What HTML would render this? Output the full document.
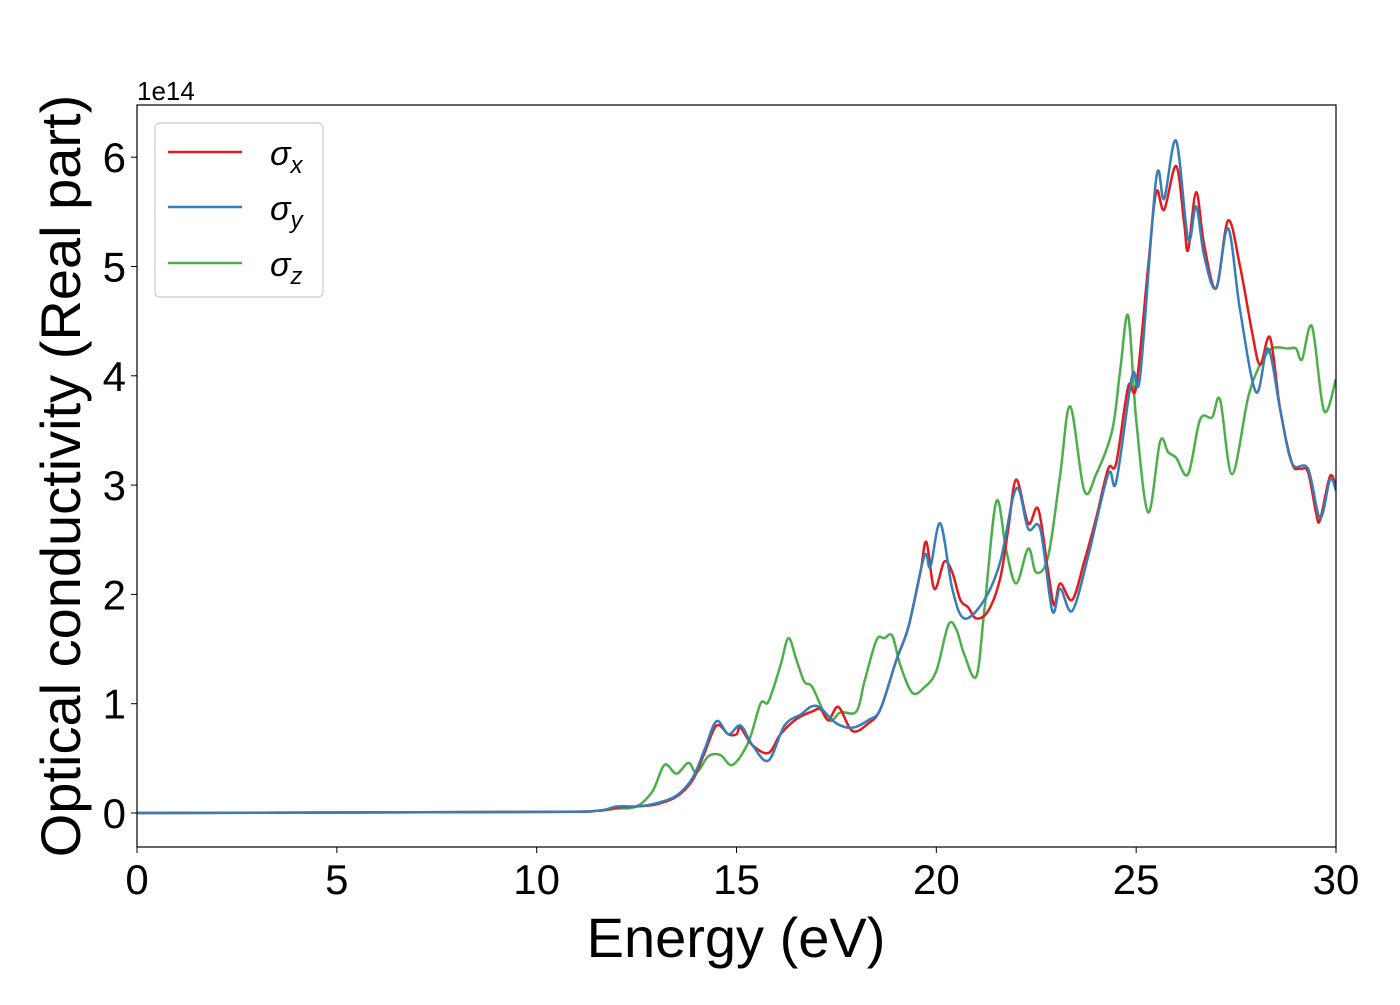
<!DOCTYPE html>
<html><head><meta charset="utf-8"><style>
body{margin:0;background:#fff;}
svg{font-family:"Liberation Sans","DejaVu Sans",sans-serif;}
</style></head><body>
<svg id="chart" width="1400" height="1000" viewBox="0 0 1400 1000" xmlns="http://www.w3.org/2000/svg">
<rect width="1400" height="1000" fill="#fff"/>
<g id="series"></g>
<rect x="137" y="105" width="1199" height="742" fill="none" stroke="#000" stroke-width="1.2"/>
<g id="xticks"></g><g id="yticks"></g>
<text x="137" y="100" font-size="26">1e14</text>
<text x="736" y="957" font-size="56" text-anchor="middle">Energy (eV)</text>
<text transform="translate(80,476) rotate(-90)" font-size="56" text-anchor="middle">Optical conductivity (Real part)</text>
<g>
<rect x="155" y="123" width="168" height="174" rx="5" fill="#fff" stroke="#ccc" stroke-width="1.2"/>
<g><line x1="168" y1="152" x2="242" y2="152" stroke="#e41a1c" stroke-width="2.5"/><text x="270" y="165" font-size="34" font-style="italic">σ<tspan font-size="24" dy="8">x</tspan></text></g>
<g><line x1="168" y1="207" x2="242" y2="207" stroke="#377eb8" stroke-width="2.5"/><text x="270" y="220" font-size="34" font-style="italic">σ<tspan font-size="24" dy="8">y</tspan></text></g>
<g><line x1="168" y1="263" x2="242" y2="263" stroke="#4daf4a" stroke-width="2.5"/><text x="270" y="276" font-size="34" font-style="italic">σ<tspan font-size="24" dy="8">z</tspan></text></g>
</g>
</svg>
<script>
const xTicks=[0,5,10,15,20,25,30];
const yTicks=[0,1,2,3,4,5,6];
const sxE=[0,10,11.5,12,12.5,13,13.5,13.9,14.2,14.5,14.8,15.0,15.1,15.4,15.8,16.1,16.5,16.9,17.1,17.3,17.55,17.9,18.3,18.6,19.0,19.3,19.6,19.75,19.95,20.2,20.4,20.6,20.8,21.0,21.3,21.6,21.8,22.0,22.3,22.55,22.8,22.95,23.1,23.4,23.7,24.0,24.3,24.5,24.8,25.0,25.3,25.5,25.7,26.0,26.2,26.3,26.5,26.7,27.0,27.3,27.6,27.9,28.1,28.35,28.6,28.9,29.1,29.3,29.5,29.6,29.85,30];
const sxV=[0,0.01,0.02,0.05,0.06,0.08,0.15,0.3,0.55,0.8,0.72,0.72,0.78,0.62,0.55,0.72,0.86,0.93,0.95,0.85,0.97,0.75,0.82,0.95,1.4,1.7,2.2,2.48,2.05,2.3,2.2,1.95,1.88,1.78,1.85,2.15,2.6,3.05,2.65,2.78,2.2,1.9,2.1,1.95,2.3,2.7,3.15,3.2,3.9,3.9,5.0,5.68,5.52,5.92,5.4,5.15,5.68,5.2,4.8,5.42,5.0,4.4,4.1,4.35,3.7,3.2,3.15,3.12,2.75,2.68,3.08,2.98];
const syE=[0,10,11.5,12,12.5,13,13.5,13.9,14.2,14.5,14.8,15.1,15.4,15.8,16.2,16.6,17.0,17.5,17.9,18.3,18.6,19.0,19.3,19.7,19.85,20.1,20.4,20.7,21.2,21.6,22.0,22.3,22.6,22.9,23.1,23.4,23.8,24.3,24.5,24.9,25.1,25.5,25.7,26.0,26.3,26.5,26.7,27.0,27.3,27.6,28.0,28.3,28.6,28.9,29.3,29.6,29.85,30];
const syV=[0,0.01,0.02,0.06,0.06,0.09,0.16,0.32,0.58,0.84,0.72,0.8,0.62,0.48,0.8,0.9,0.98,0.82,0.78,0.85,0.95,1.4,1.7,2.35,2.25,2.65,2.05,1.78,1.95,2.3,2.97,2.6,2.6,1.85,2.05,1.85,2.35,3.1,3.03,4.0,4.0,5.8,5.62,6.15,5.25,5.55,5.1,4.8,5.35,4.6,3.85,4.25,3.7,3.2,3.15,2.7,3.05,2.95];
const szE=[0,10,11.5,12,12.5,12.9,13.2,13.5,13.8,14.0,14.3,14.6,14.9,15.3,15.6,15.8,16.1,16.3,16.5,16.7,16.9,17.3,17.6,18.0,18.2,18.5,18.7,18.9,19.1,19.4,19.7,20.0,20.3,20.5,20.7,21.0,21.2,21.5,21.75,22.0,22.3,22.5,22.8,23.1,23.35,23.7,24.0,24.4,24.6,24.8,25.0,25.3,25.6,25.8,26.0,26.3,26.6,26.9,27.1,27.4,27.8,28.1,28.4,28.8,29.0,29.15,29.4,29.7,30];
const szV=[0,0.01,0.02,0.04,0.06,0.2,0.44,0.36,0.46,0.37,0.52,0.53,0.44,0.65,1.0,1.02,1.35,1.6,1.4,1.2,1.15,0.85,0.92,0.93,1.2,1.58,1.6,1.62,1.35,1.1,1.15,1.3,1.72,1.68,1.45,1.25,1.85,2.85,2.4,2.1,2.42,2.2,2.35,3.1,3.72,2.95,3.1,3.5,4.05,4.55,3.6,2.75,3.4,3.3,3.25,3.1,3.6,3.62,3.78,3.1,3.8,4.1,4.25,4.25,4.25,4.15,4.45,3.68,3.97];
const X=e=>137+(e/30)*1199;
const Y=v=>813-v*109.3;
const NS="http://www.w3.org/2000/svg";
function pathFor(E,V){
  const p=E.map((e,i)=>[X(e),Y(V[i])]);
  let d="M"+p[0][0]+","+p[0][1];
  for(let i=0;i<p.length-1;i++){
    const p0=p[Math.max(0,i-1)],p1=p[i],p2=p[i+1],p3=p[Math.min(p.length-1,i+2)];
    const c1x=p1[0]+(p2[0]-p0[0])/6,c1y=p1[1]+(p2[1]-p0[1])/6;
    const c2x=p2[0]-(p3[0]-p1[0])/6,c2y=p2[1]-(p3[1]-p1[1])/6;
    d+=" C"+c1x+","+c1y+" "+c2x+","+c2y+" "+p2[0]+","+p2[1];
  }
  return d;
}
const g=document.getElementById("series");
const defs=document.createElementNS(NS,"clipPath");defs.id="clip";
const cr=document.createElementNS(NS,"rect");cr.setAttribute("x",137);cr.setAttribute("y",105);cr.setAttribute("width",1199);cr.setAttribute("height",742);
defs.appendChild(cr);g.appendChild(defs);
[[szE,szV,"#4daf4a","line-sigma-z"],[sxE,sxV,"#e41a1c","line-sigma-x"],[syE,syV,"#377eb8","line-sigma-y"]].forEach(s=>{
  const el=document.createElementNS(NS,"path");
  el.setAttribute("d",pathFor(s[0],s[1]));
  el.setAttribute("fill","none");el.setAttribute("stroke",s[2]);el.setAttribute("stroke-width","2.5");
  el.setAttribute("clip-path","url(#clip)");
  
  
  g.appendChild(el);
});
const xt=document.getElementById("xticks");
xTicks.forEach(t=>{
  const l=document.createElementNS(NS,"line");
  l.setAttribute("x1",X(t));l.setAttribute("x2",X(t));l.setAttribute("y1",847);l.setAttribute("y2",853);l.setAttribute("stroke","#000");
  
  
  xt.appendChild(l);
  const tx=document.createElementNS(NS,"text");
  tx.setAttribute("x",X(t));tx.setAttribute("y",894);tx.setAttribute("font-size","42");tx.setAttribute("text-anchor","middle");
  tx.textContent=t;
  
  
  xt.appendChild(tx);
});
const yt=document.getElementById("yticks");
yTicks.forEach(t=>{
  const l=document.createElementNS(NS,"line");
  l.setAttribute("x1",131);l.setAttribute("x2",137);l.setAttribute("y1",Y(t));l.setAttribute("y2",Y(t));l.setAttribute("stroke","#000");
  
  
  yt.appendChild(l);
  const tx=document.createElementNS(NS,"text");
  tx.setAttribute("x",126);tx.setAttribute("y",Y(t)+15);tx.setAttribute("font-size","42");tx.setAttribute("text-anchor","end");
  tx.textContent=t;
  
  
  yt.appendChild(tx);
});
</script>
</body></html>
